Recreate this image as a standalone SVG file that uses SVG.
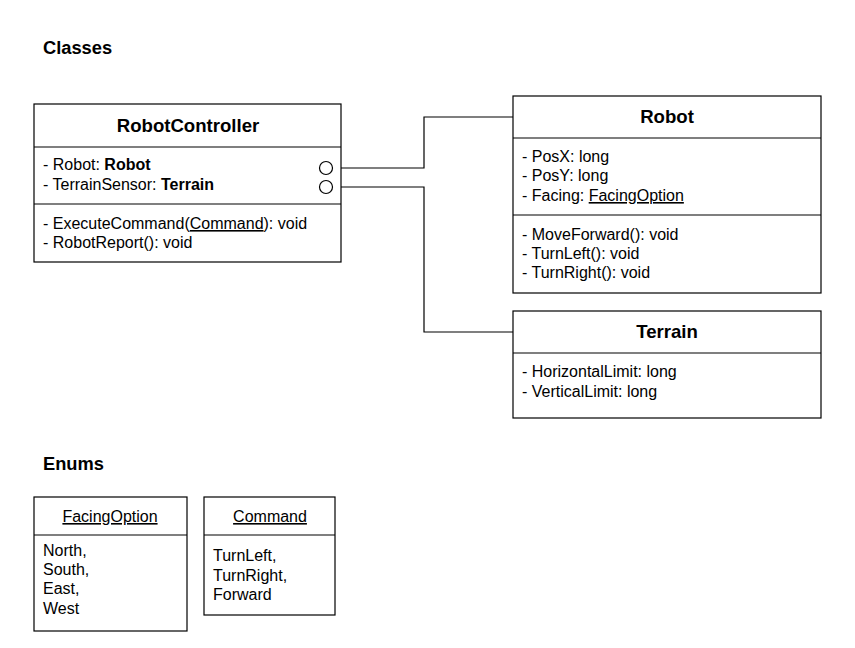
<svg xmlns="http://www.w3.org/2000/svg" width="855" height="648" viewBox="0 0 855 648">
<style>
text{font-family:"Liberation Sans",Arial,sans-serif;fill:#000}
.h{font-size:18.3px;font-weight:bold}
.t{font-size:18.6px;font-weight:bold;text-anchor:middle}
.b{font-size:16px}
.e{font-size:16px;text-anchor:middle}
.box{fill:#fff;stroke:#000;stroke-width:1.2}
.ln{stroke:#000;stroke-width:1.2;fill:none}
.u{text-decoration:underline}
</style>
<rect width="855" height="648" fill="#fff"/>
<text class="h" x="43" y="54">Classes</text>
<text class="h" x="43" y="470">Enums</text>
<g id="connectors">
<polyline class="ln" points="333,168 424,168 424,117 513,117"/>
<polyline class="ln" points="333,187 424,187 424,332 513,332"/>
</g>
<g id="RobotController">
<rect class="box" x="34" y="104" width="307" height="158"/>
<line class="ln" x1="34" y1="147" x2="341" y2="147"/>
<line class="ln" x1="34" y1="204" x2="341" y2="204"/>
<text class="t" x="188" y="132">RobotController</text>
<text class="b" x="43" y="170">- Robot: <tspan font-weight="bold">Robot</tspan></text>
<text class="b" x="43" y="190">- TerrainSensor: <tspan font-weight="bold">Terrain</tspan></text>
<text class="b" x="43" y="229">- ExecuteCommand(<tspan class="u">Command</tspan>): void</text>
<text class="b" x="43" y="248">- RobotReport(): void</text>
<circle class="box" cx="326" cy="168" r="6.5"/>
<circle class="box" cx="326" cy="187" r="6.5"/>
</g>
<g id="Robot">
<rect class="box" x="513" y="96" width="308" height="197"/>
<line class="ln" x1="513" y1="138" x2="821" y2="138"/>
<line class="ln" x1="513" y1="215" x2="821" y2="215"/>
<text class="t" x="667" y="123">Robot</text>
<text class="b" x="522" y="162">- PosX: long</text>
<text class="b" x="522" y="181">- PosY: long</text>
<text class="b" x="522" y="201">- Facing: <tspan class="u">FacingOption</tspan></text>
<text class="b" x="522" y="240">- MoveForward(): void</text>
<text class="b" x="522" y="259">- TurnLeft(): void</text>
<text class="b" x="522" y="278">- TurnRight(): void</text>
</g>
<g id="Terrain">
<rect class="box" x="513" y="311" width="308" height="107"/>
<line class="ln" x1="513" y1="353" x2="821" y2="353"/>
<text class="t" x="667" y="338">Terrain</text>
<text class="b" x="522" y="377">- HorizontalLimit: long</text>
<text class="b" x="522" y="397">- VerticalLimit: long</text>
</g>
<g id="FacingOption">
<rect class="box" x="34" y="497" width="153" height="134"/>
<line class="ln" x1="34" y1="535" x2="187" y2="535"/>
<text class="e u" x="110" y="522">FacingOption</text>
<text class="b" x="43" y="556">North,</text>
<text class="b" x="43" y="575">South,</text>
<text class="b" x="43" y="594">East,</text>
<text class="b" x="43" y="614">West</text>
</g>
<g id="Command">
<rect class="box" x="204" y="497" width="131" height="118"/>
<line class="ln" x1="204" y1="535" x2="335" y2="535"/>
<text class="e u" x="270" y="522">Command</text>
<text class="b" x="213" y="561">TurnLeft,</text>
<text class="b" x="213" y="581">TurnRight,</text>
<text class="b" x="213" y="600">Forward</text>
</g>
</svg>
